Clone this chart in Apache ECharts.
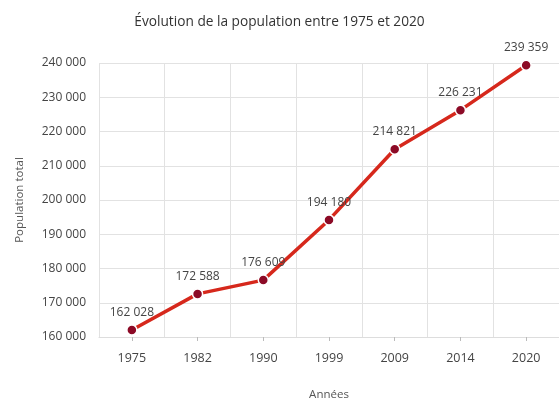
<!DOCTYPE html>
<html>
<head>
<meta charset="utf-8">
<script src="https://cdn.jsdelivr.net/npm/echarts@6/dist/echarts.min.js"></script>
<style>html,body{margin:0;padding:0;background:#fff}#c{width:559px;height:406px}</style>
</head>
<body>
<div id="c"></div>
<script>
const years = ['1975', '1982', '1990', '1999', '2009', '2014', '2020'];
const population = [162028, 172588, 176609, 194180, 214821, 226231, 239359];
const titleText = 'Évolution de la population entre 1975 et 2020';
const yName = 'Population total';
const xName = 'Années';

function fmt(v) {
  return String(v).replace(/\B(?=(\d{3})+(?!\d))/g, ' ');
}

const chart = echarts.init(document.getElementById('c'));
const font = 'Open Sans';
chart.setOption({
  animation: false,
  backgroundColor: '#fff',
  textStyle: { fontFamily: font },
  title: {
    text: titleText,
    left: 'center',
    top: 10,
    textStyle: { fontFamily: font, fontSize: 13.7, fontWeight: 'normal', color: '#333' }
  },
  grid: { left: 99, top: 63, width: 462, height: 284 },
  xAxis: {
    type: 'category',
    data: years,
    boundaryGap: true,
    name: xName,
    nameLocation: 'middle',
    nameGap: 52,
    nameTextStyle: { fontFamily: font, fontSize: 11.5, color: '#555' },
    axisLine: { show: true, lineStyle: { color: '#ddd' } },
    axisTick: { show: true, alignWithLabel: true, length: 4, lineStyle: { color: '#bbb' } },
    axisLabel: { fontFamily: font, fontSize: 12.5, color: '#444', margin: 15 },
    splitLine: { show: true, lineStyle: { color: '#e2e2e2' } }
  },
  yAxis: {
    type: 'value',
    min: 160000,
    max: 240000,
    interval: 10000,
    name: yName,
    nameLocation: 'middle',
    nameGap: 73,
    nameTextStyle: { fontFamily: font, fontSize: 11.5, color: '#555' },
    axisLine: { show: false },
    axisTick: { show: false },
    axisLabel: { fontFamily: font, fontSize: 12, color: '#444', margin: 13, formatter: fmt },
    splitLine: { show: true, lineStyle: { color: '#e2e2e2' } }
  },
  series: [{
    type: 'line',
    data: population,
    symbol: 'circle',
    symbolSize: 10,
    lineStyle: { color: '#d6281c', width: 3.5 },
    itemStyle: { color: '#8c0a26', borderColor: '#fff', borderWidth: 1.5 },
    label: {
      show: true,
      position: 'top',
      distance: 6,
      fontFamily: font,
      fontSize: 12,
      color: '#444',
      formatter: p => fmt(p.value)
    }
  }]
});
</script>
</body>
</html>
